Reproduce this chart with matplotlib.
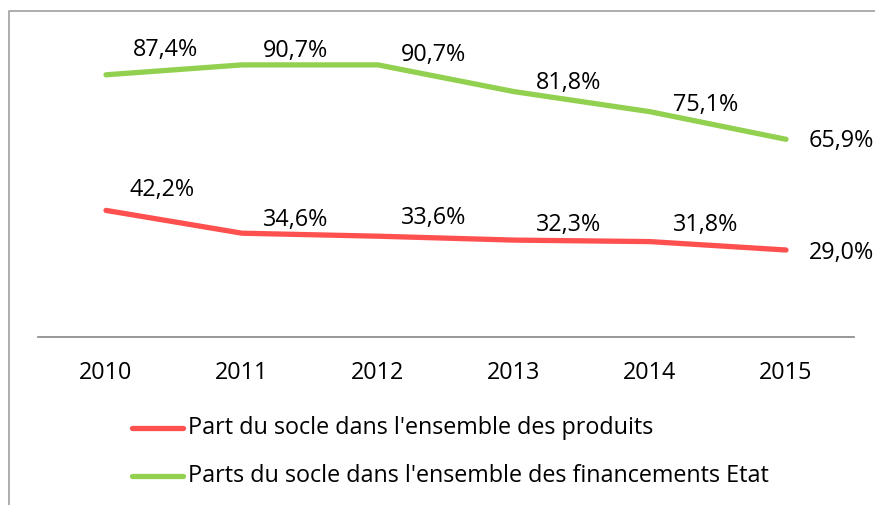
import matplotlib
matplotlib.use("Agg")
import matplotlib.pyplot as plt
from matplotlib.lines import Line2D

years = ["2010", "2011", "2012", "2013", "2014", "2015"]
part_produits = [42.2, 34.6, 33.6, 32.3, 31.8, 29.0]
parts_financements = [87.4, 90.7, 90.7, 81.8, 75.1, 65.9]
label_produits = "Part du socle dans l'ensemble des produits"
label_financements = "Parts du socle dans l'ensemble des financements Etat"

# label offsets in pixels (dx, dy) - layout only
off_red = [(56, 20), (54, 13), (56, 18), (55, 15), (56, 17), (55, -3)]
off_green = [(59, 25), (54, 14), (56, 10), (55, 9), (56, 7), (55, -2)]

RED = "#FF5050"
GREEN = "#92D050"
FONT = "Open Sans"
FS = 16.8

W, H = 875, 505
fig = plt.figure(figsize=(W / 100, H / 100), dpi=100)
ax = fig.add_axes([38 / W, 1 - 337 / H, 816 / W, 300 / H])

x = list(range(len(years)))
ax.plot(x, part_produits, color=RED, lw=3.8, solid_capstyle="round", solid_joinstyle="round")
ax.plot(x, parts_financements, color=GREEN, lw=3.8, solid_capstyle="round", solid_joinstyle="round")

def fmt(v):
    return f"{v:.1f}".replace(".", ",") + "%"

for xi, v, (dx, dy) in zip(x, part_produits, off_red):
    ax.annotate(fmt(v), (xi, v), xytext=(dx * 0.72, dy * 0.72), textcoords="offset points",
                ha="center", va="center", fontsize=FS, family=FONT, color="black")
for xi, v, (dx, dy) in zip(x, parts_financements, off_green):
    ax.annotate(fmt(v), (xi, v), xytext=(dx * 0.72, dy * 0.72), textcoords="offset points",
                ha="center", va="center", fontsize=FS, family=FONT, color="black")

ax.set_xlim(-0.5, 5.5)
ax.set_ylim(0, 100)
ax.set_xticks(x)
ax.set_xticklabels(years, fontsize=FS, family=FONT)
ax.tick_params(axis="x", length=0, pad=17)
ax.set_yticks([])
for s in ["top", "right", "left"]:
    ax.spines[s].set_visible(False)
ax.spines["bottom"].set_color("#868686")
ax.spines["bottom"].set_linewidth(1.2)
ax.patch.set_alpha(0)

# legend drawn manually in figure pixels
def fx(px):
    return px / W
def fy(py):
    return 1 - py / H

for py, col, txt in [(428, RED, label_produits), (476, GREEN, label_financements)]:
    fig.add_artist(Line2D([fx(132), fx(183)], [fy(py), fy(py)], color=col, lw=3.8,
                          solid_capstyle="round"))
    fig.text(fx(188), fy(py), txt, ha="left", va="center", fontsize=FS, family=FONT, color="black")

# outer frame (left and top)
fig.add_artist(Line2D([fx(8.5), fx(8.5), fx(875)], [fy(505), fy(10.5), fy(10.5)],
                      color="#A0A0A0", lw=1.2))

fig.savefig("out.png", dpi=100)
